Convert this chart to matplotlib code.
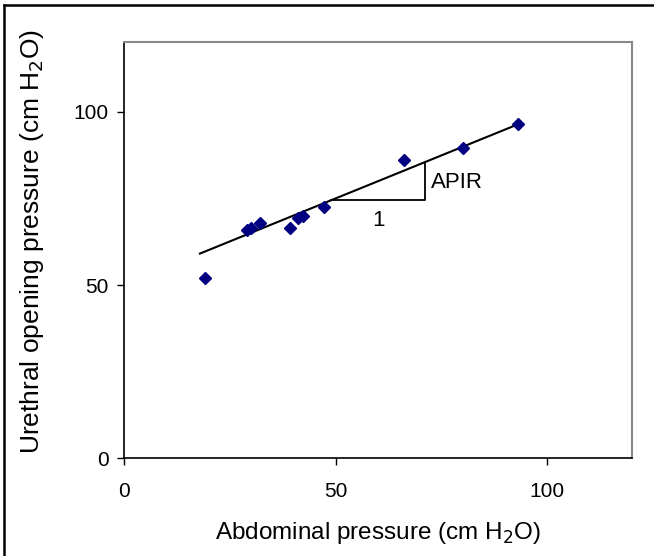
import numpy as np
import matplotlib
matplotlib.use("Agg")
import matplotlib.pyplot as plt
from matplotlib.lines import Line2D

plt.rcParams['font.family'] = ['Liberation Sans', 'DejaVu Sans']

# Data
abdominal = [19.0, 29.0, 30.0, 32.2, 39.1, 41.1, 42.3, 47.3, 66.1, 80.1, 93.1]
urethral = [52.0, 66.0, 66.5, 68.0, 66.4, 69.4, 70.0, 72.5, 86.0, 89.5, 96.4]

# Regression line (APIR = slope)
fit_slope = 0.496
fit_intercept = 50.2
fit_x = [17.9, 93.1]

# slope triangle
tri_x = [49.0, 71.0]

fig = plt.figure(figsize=(6.54, 5.56), dpi=100)
ax = fig.add_axes([0.190, 0.1757, 0.776, 0.748])

fx = np.array(fit_x)
ax.plot(fx, fit_intercept + fit_slope * fx, color='black', lw=1.5, zorder=2)

tx0, tx1 = tri_x
ty0 = fit_intercept + fit_slope * tx0
ty1 = fit_intercept + fit_slope * tx1
ax.plot([tx0, tx1, tx1], [ty0, ty0, ty1], color='black', lw=1.3, zorder=2)
ax.text(tx1 + 1.4, (ty0 + ty1) / 2 - 0.5, 'APIR', fontsize=16, ha='left', va='center')
ax.text((tx0 + tx1) / 2, ty0 - 5.8, '1', fontsize=16, ha='center', va='center')

ax.plot(abdominal, urethral, linestyle='none', marker='D', ms=6.5,
        color='#000080', mec='#000080', zorder=3)

ax.set_xlim(0, 120)
ax.set_ylim(0, 120)
ax.set_xticks([0, 50, 100])
ax.set_yticks([0, 50, 100])
ax.tick_params(direction='out', length=5, width=1, labelsize=15, pad=6, colors='black')
ax.tick_params(axis='x', pad=12)

for side in ['top', 'right']:
    ax.spines[side].set_color('#888888')
    ax.spines[side].set_linewidth(1.5)
for side in ['left', 'bottom']:
    ax.spines[side].set_color('black')
    ax.spines[side].set_linewidth(1.2)

ax.set_xlabel('Abdominal pressure (cm H$_2$O)', fontsize=17.5, labelpad=14)
ax.set_ylabel('Urethral opening pressure (cm H$_2$O)', fontsize=19)
ax.yaxis.set_label_coords(-0.154, 0.522)

# outer frame (only top and left visible in the reference)
fig.add_artist(Line2D([4 / 654, 4 / 654], [0, 1 - 5 / 556], transform=fig.transFigure,
                      color='black', lw=1.8))
fig.add_artist(Line2D([4 / 654, 1], [1 - 5 / 556, 1 - 5 / 556], transform=fig.transFigure,
                      color='black', lw=1.8))

fig.savefig('out.png', dpi=100)
